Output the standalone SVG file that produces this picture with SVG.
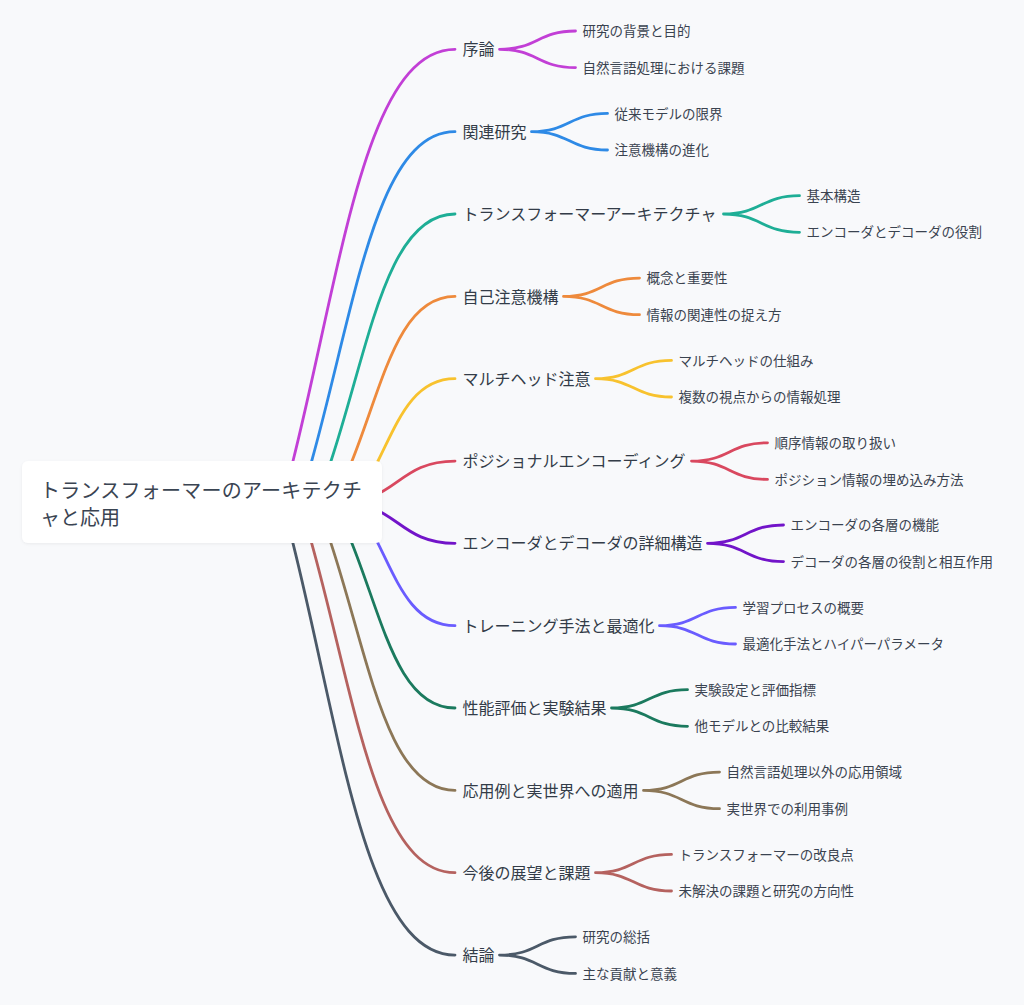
<svg xmlns="http://www.w3.org/2000/svg" width="1024" height="1005" viewBox="0 0 1024 1005">
<defs>
<style>
.bg{fill:#f8f9fb}
.l{fill:none;stroke-width:2.8;stroke-linecap:round}
.t1{font-family:"Noto Sans CJK JP","Noto Sans",sans-serif;font-size:16px;fill:#333c48}
.t2{font-family:"Noto Sans CJK JP","Noto Sans",sans-serif;font-size:13.5px;fill:#3a4350}
.t0{font-family:"Noto Sans CJK JP","Noto Sans",sans-serif;font-size:20px;fill:#3a4452}
.box{fill:#ffffff}
</style>
<filter id="sh" x="-10%" y="-20%" width="120%" height="150%">
<feDropShadow dx="0" dy="1" stdDeviation="1.5" flood-color="#000" flood-opacity="0.06"/>
</filter>
</defs>
<rect class="bg" x="0" y="0" width="1024" height="1005"/>
<g id="connectors">
<path class="l" stroke="#c23fd6" d="M288,481 L293,461 C341.4,267.5 365.9,49.3 455,49.3"/>
<path class="l" stroke="#2e8ae6" d="M306.1,481 L311.7,461 C355,306.2 376.2,131.7 455,131.7"/>
<path class="l" stroke="#1eae96" d="M324.4,481 L331,461 C369.3,344.9 386.8,214 455,214"/>
<path class="l" stroke="#ee8a3c" d="M344,481 L352,461 C383,383.6 398.3,296.4 455,296.4"/>
<path class="l" stroke="#f8c22e" d="M368,481 L378,461 C397.4,422.3 412.6,378.7 455,378.7"/>
<path class="l" stroke="#d9485f" d="M340,502.2 C397.5,502.2 397.5,461.1 455,461.1"/>
<path class="l" stroke="#7214c9" d="M340,502.2 C397.5,502.2 397.5,543.3 455,543.3"/>
<path class="l" stroke="#6a5cff" d="M368,523.4 L378,543.4 C397.4,582.1 412.6,625.7 455,625.7"/>
<path class="l" stroke="#1b7a5e" d="M344,523.4 L352,543.4 C383,620.8 398.3,708 455,708"/>
<path class="l" stroke="#8c7757" d="M324.4,523.4 L331,543.4 C369.3,659.5 386.8,790.4 455,790.4"/>
<path class="l" stroke="#b5625f" d="M306.1,523.4 L311.7,543.4 C355,698.2 376.2,872.7 455,872.7"/>
<path class="l" stroke="#4b5968" d="M288,523.4 L293,543.4 C341.4,736.9 365.9,955.1 455,955.1"/>

<path class="l" stroke="#c23fd6" d="M499.5,49.3 C537.5,49.3 537.5,31 575.5,31 M499.5,49.3 C537.5,49.3 537.5,67.6 575.5,67.6"/>
<path class="l" stroke="#2e8ae6" d="M531.5,131.7 C569.5,131.7 569.5,113.4 607.5,113.4 M531.5,131.7 C569.5,131.7 569.5,150 607.5,150"/>
<path class="l" stroke="#1eae96" d="M723.5,214 C761.5,214 761.5,195.7 799.5,195.7 M723.5,214 C761.5,214 761.5,232.3 799.5,232.3"/>
<path class="l" stroke="#ee8a3c" d="M563.5,296.4 C601.5,296.4 601.5,278.1 639.5,278.1 M563.5,296.4 C601.5,296.4 601.5,314.7 639.5,314.7"/>
<path class="l" stroke="#f8c22e" d="M595.5,378.7 C633.5,378.7 633.5,360.4 671.5,360.4 M595.5,378.7 C633.5,378.7 633.5,397 671.5,397"/>
<path class="l" stroke="#d9485f" d="M691.5,461.1 C729.5,461.1 729.5,442.8 767.5,442.8 M691.5,461.1 C729.5,461.1 729.5,479.4 767.5,479.4"/>
<path class="l" stroke="#7214c9" d="M707.5,543.3 C745.5,543.3 745.5,525 783.5,525 M707.5,543.3 C745.5,543.3 745.5,561.6 783.5,561.6"/>
<path class="l" stroke="#6a5cff" d="M659.5,625.7 C697.5,625.7 697.5,607.4 735.5,607.4 M659.5,625.7 C697.5,625.7 697.5,644 735.5,644"/>
<path class="l" stroke="#1b7a5e" d="M611.5,708 C649.5,708 649.5,689.7 687.5,689.7 M611.5,708 C649.5,708 649.5,726.3 687.5,726.3"/>
<path class="l" stroke="#8c7757" d="M643.5,790.4 C681.5,790.4 681.5,772.1 719.5,772.1 M643.5,790.4 C681.5,790.4 681.5,808.7 719.5,808.7"/>
<path class="l" stroke="#b5625f" d="M595.5,872.7 C633.5,872.7 633.5,854.4 671.5,854.4 M595.5,872.7 C633.5,872.7 633.5,891 671.5,891"/>
<path class="l" stroke="#4b5968" d="M499.5,955.1 C537.5,955.1 537.5,936.8 575.5,936.8 M499.5,955.1 C537.5,955.1 537.5,973.4 575.5,973.4"/>
</g>

<g id="root">
<rect class="box" x="22" y="461" width="360" height="82" rx="6" filter="url(#sh)"/>
<text class="t0" x="40" y="497.5" textLength="322">トランスフォーマーのアーキテクチ</text>
<text class="t0" x="40" y="524.5">ャと応用</text>
</g>

<g id="n0"><text class="t1" x="462.5" y="55.4">序論</text></g>
<g id="n0a"><text class="t2" x="582.5" y="36.1">研究の背景と目的</text></g>
<g id="n0b"><text class="t2" x="582.5" y="72.7">自然言語処理における課題</text></g>

<g id="n1"><text class="t1" x="462.5" y="137.8">関連研究</text></g>
<g id="n1a"><text class="t2" x="614.5" y="118.5">従来モデルの限界</text></g>
<g id="n1b"><text class="t2" x="614.5" y="155.1">注意機構の進化</text></g>

<g id="n2"><text class="t1" x="462.5" y="220.1">トランスフォーマーアーキテクチャ</text></g>
<g id="n2a"><text class="t2" x="806.5" y="200.8">基本構造</text></g>
<g id="n2b"><text class="t2" x="806.5" y="237.4">エンコーダとデコーダの役割</text></g>

<g id="n3"><text class="t1" x="462.5" y="302.5">自己注意機構</text></g>
<g id="n3a"><text class="t2" x="646.5" y="283.2">概念と重要性</text></g>
<g id="n3b"><text class="t2" x="646.5" y="319.8">情報の関連性の捉え方</text></g>

<g id="n4"><text class="t1" x="462.5" y="384.8">マルチヘッド注意</text></g>
<g id="n4a"><text class="t2" x="678.5" y="365.5">マルチヘッドの仕組み</text></g>
<g id="n4b"><text class="t2" x="678.5" y="402.1">複数の視点からの情報処理</text></g>

<g id="n5"><text class="t1" x="462.5" y="467.2">ポジショナルエンコーディング</text></g>
<g id="n5a"><text class="t2" x="774.5" y="447.9">順序情報の取り扱い</text></g>
<g id="n5b"><text class="t2" x="774.5" y="484.5">ポジション情報の埋め込み方法</text></g>

<g id="n6"><text class="t1" x="462.5" y="549.4">エンコーダとデコーダの詳細構造</text></g>
<g id="n6a"><text class="t2" x="790.5" y="530.1">エンコーダの各層の機能</text></g>
<g id="n6b"><text class="t2" x="790.5" y="566.7">デコーダの各層の役割と相互作用</text></g>

<g id="n7"><text class="t1" x="462.5" y="631.8">トレーニング手法と最適化</text></g>
<g id="n7a"><text class="t2" x="742.5" y="612.5">学習プロセスの概要</text></g>
<g id="n7b"><text class="t2" x="742.5" y="649.1">最適化手法とハイパーパラメータ</text></g>

<g id="n8"><text class="t1" x="462.5" y="714.1">性能評価と実験結果</text></g>
<g id="n8a"><text class="t2" x="694.5" y="694.8">実験設定と評価指標</text></g>
<g id="n8b"><text class="t2" x="694.5" y="731.4">他モデルとの比較結果</text></g>

<g id="n9"><text class="t1" x="462.5" y="796.5">応用例と実世界への適用</text></g>
<g id="n9a"><text class="t2" x="726.5" y="777.2">自然言語処理以外の応用領域</text></g>
<g id="n9b"><text class="t2" x="726.5" y="813.8">実世界での利用事例</text></g>

<g id="n10"><text class="t1" x="462.5" y="878.8">今後の展望と課題</text></g>
<g id="n10a"><text class="t2" x="678.5" y="859.5">トランスフォーマーの改良点</text></g>
<g id="n10b"><text class="t2" x="678.5" y="896.1">未解決の課題と研究の方向性</text></g>

<g id="n11"><text class="t1" x="462.5" y="961.2">結論</text></g>
<g id="n11a"><text class="t2" x="582.5" y="941.9">研究の総括</text></g>
<g id="n11b"><text class="t2" x="582.5" y="978.5">主な貢献と意義</text></g>
</svg>
